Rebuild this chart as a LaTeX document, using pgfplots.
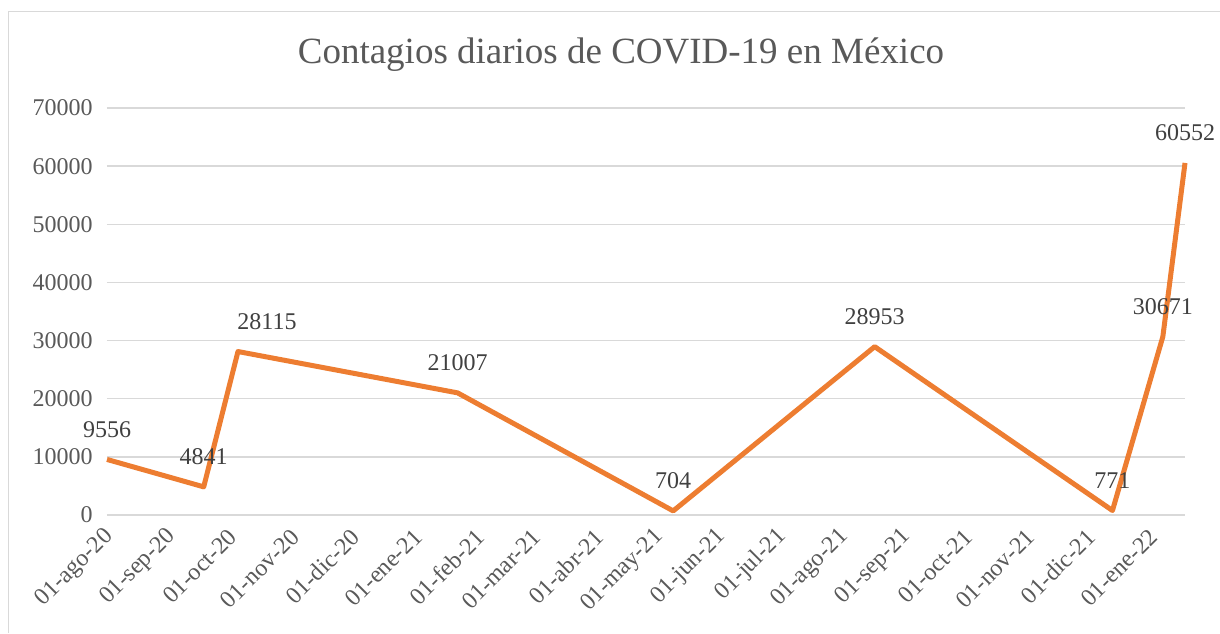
\documentclass[border=0pt]{standalone}
\usepackage{pgfplots}
\pgfplotsset{compat=1.18}
\usepackage{fontspec}
\setmainfont{Liberation Serif}

\definecolor{lineorange}{HTML}{ED7D31}
\definecolor{gridgray}{HTML}{D9D9D9}
\definecolor{ticktext}{HTML}{595959}
\definecolor{labeltext}{HTML}{404040}

% day index from 01-ago-20, value, horizontal shift of the label (pt)
\pgfplotstableread{
x   y     dx
0   9556  0
48  4841  0
65  28115 14.5
174 21007 0
281 704   0
381 28953 0
499 771   0
524 30671 0
535 60552 0
}\contagios

\begin{document}
\begin{tikzpicture}
  % chart area (left and top edges only are visible)
  \path[use as bounding box] (-53.5pt,-59pt) rectangle (556.5pt,257.5pt);
  \draw[gridgray, line width=0.9pt] (-49.25pt,-59pt) -- (-49.25pt,251.75pt) -- (556.5pt,251.75pt);

  \node[font=\fontsize{18.5}{20}\selectfont, text=ticktext] at (257pt,230pt) {Contagios diarios de COVID-19 en México};

  \begin{axis}[
    at={(0,0)}, anchor=south west,
    scale only axis,
    width=539pt, height=203.5pt,
    xmin=0, xmax=535,
    ymin=0, ymax=70000,
    ytick={0,10000,...,70000},
    xtick={0,31,61,92,122,153,184,212,243,273,304,334,365,396,426,457,487,518},
    xticklabels={01-ago-20,01-sep-20,01-oct-20,01-nov-20,01-dic-20,01-ene-21,
      01-feb-21,01-mar-21,01-abr-21,01-may-21,01-jun-21,01-jul-21,01-ago-21,
      01-sep-21,01-oct-21,01-nov-21,01-dic-21,01-ene-22},
    axis line style={draw=none},
    major tick length=0pt,
    ymajorgrids,
    grid style={gridgray, line width=0.75pt},
    tick label style={font=\fontsize{12}{14}\selectfont, text=ticktext},
    xticklabel style={rotate=45, anchor=east, yshift=-7.4pt, xshift=-5.3pt, inner sep=0pt},
    yticklabel style={xshift=-7pt, inner sep=0pt},
    /pgf/number format/assume math mode=true,
    /pgf/number format/set thousands separator={},
    scaled y ticks=false,
    clip=false,
  ]
    \addplot[lineorange, line width=2.5pt, line join=round,
      nodes near coords,
      point meta=explicit,
      visualization depends on={\thisrow{dx} \as \dx},
      every node near coord/.append style={
        font=\fontsize{12}{14}\selectfont, text=labeltext,
        anchor=base, yshift=11pt, xshift=\dx pt, inner sep=0pt,
        /pgf/number format/fixed, /pgf/number format/precision=0,
        /pgf/number format/set thousands separator={},
        /pgf/number format/assume math mode=true},
    ] table[x=x, y=y, meta=y] {\contagios};
  \end{axis}
\end{tikzpicture}
\end{document}
